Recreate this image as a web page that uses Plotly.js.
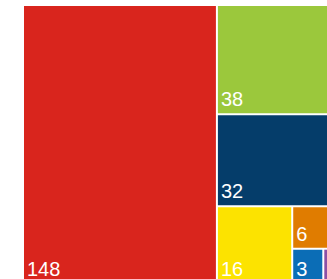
<!DOCTYPE html>
<html>
<head>
<meta charset="utf-8">
<script src="https://cdn.plot.ly/plotly-3.0.1.min.js"></script>
<style>
html, body { margin: 0; padding: 0; background: #ffffff; overflow: hidden; }
#wrap { width: 327px; height: 279px; overflow: hidden; position: relative; }
#chart { width: 370px; height: 310px; position: absolute; left: 0; top: 0; }
</style>
</head>
<body>
<div id="wrap"><div id="chart"></div></div>
<script>
const categories = ["A", "B", "C", "D", "E", "F", "G"];
const values = [148, 38, 32, 16, 6, 3, 2];
const colors = ["#d9251d", "#9bc83c", "#053d6a", "#fce300", "#e07c00", "#0b6db6", "#8b4fa6"];

const parents = categories.map(() => "");

Plotly.newPlot("chart", [{
  type: "treemap",
  labels: categories,
  parents: parents,
  values: values,
  sort: false,
  textinfo: "value",
  textposition: "bottom left",
  textfont: { family: "Liberation Sans, Arial, sans-serif", size: 20, color: "#ffffff" },
  marker: { colors: colors, line: { width: 0, color: "#ffffff" }, pad: { t: 0, l: 0, r: 0, b: 0 } },
  tiling: { packing: "squarify", pad: 2 },
  pathbar: { visible: false },
  hoverinfo: "none"
}], {
  width: 370,
  height: 310,
  margin: { l: 24, t: 6, r: 27, b: 27 },
  paper_bgcolor: "#ffffff",
  showlegend: false
}, { displayModeBar: false, staticPlot: true });
</script>
</body>
</html>
